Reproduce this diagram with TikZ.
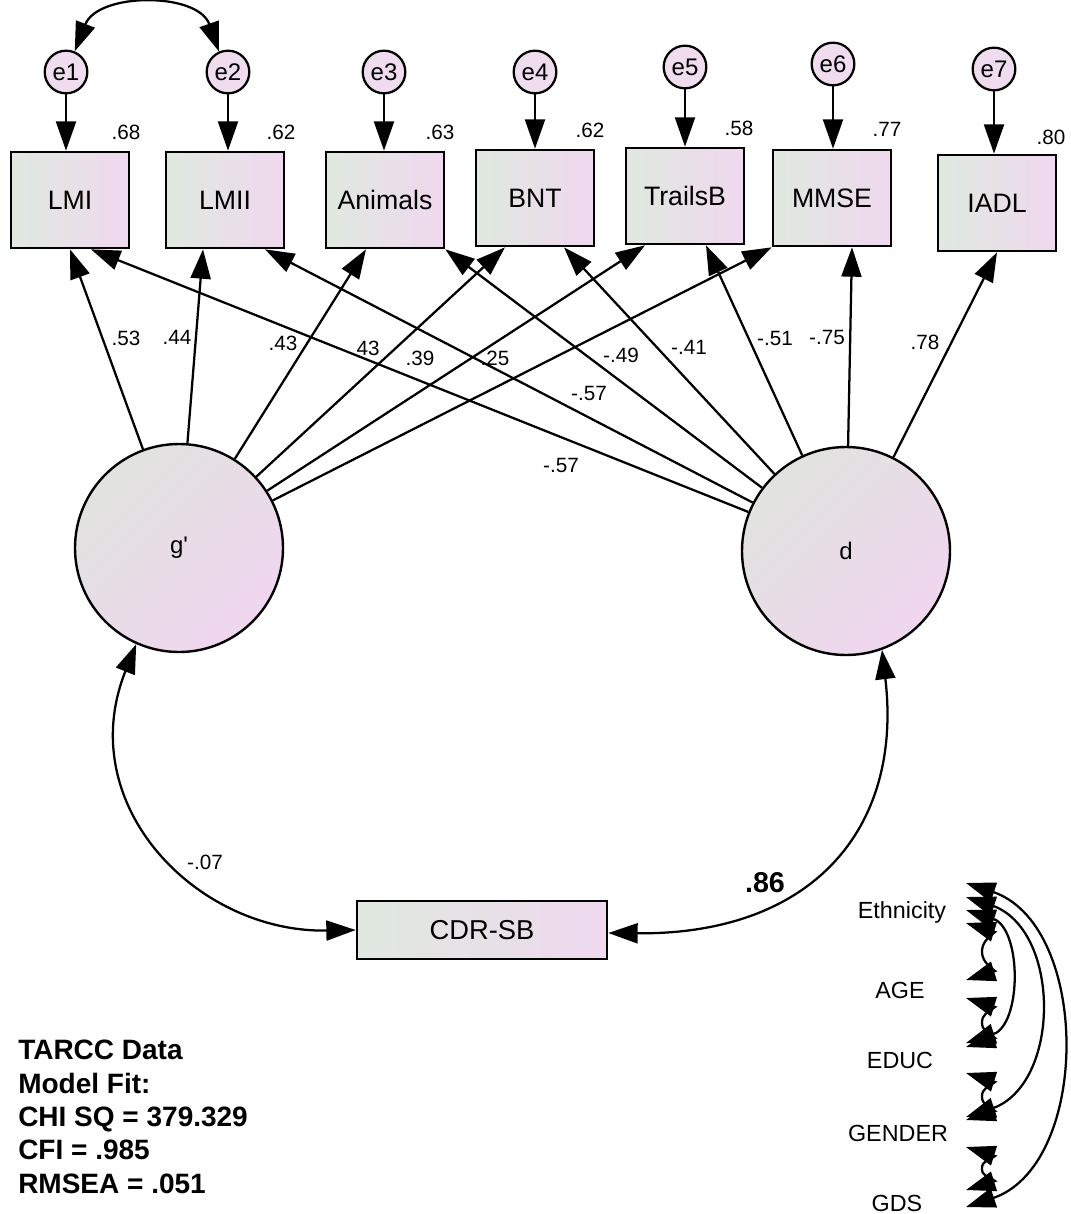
\documentclass[tikz,border=0pt]{standalone}
\usepackage{fontspec}
\setmainfont{Liberation Sans}
\usetikzlibrary{arrows.meta,calc}
\definecolor{boxL}{HTML}{DFE9DF}
\definecolor{boxR}{HTML}{F0D8EF}
\definecolor{eFill}{HTML}{EFDCEF}
\definecolor{latT}{HTML}{E1E3DF}
\definecolor{latB}{HTML}{F0D6EF}
\begin{document}
\begin{tikzpicture}[x=0.75pt,y=-0.75pt,
 >={Triangle[length=22pt,width=15pt]},
 obs/.style={draw=black,line width=2pt,rectangle,minimum width=88.5pt,minimum height=72pt,inner sep=0pt,left color=boxL,right color=boxR,font=\fontsize{20}{22}\selectfont},
 err/.style={draw=black,line width=1.7pt,circle,minimum size=32pt,inner sep=0pt,fill=eFill,font=\fontsize{18}{20}\selectfont},
 lat/.style={draw=black,line width=1.8pt,circle,minimum size=156pt,inner sep=0pt,top color=latT,bottom color=latB,shading angle=45,font=\fontsize{18}{20}\selectfont},
 val/.style={inner sep=0pt,font=\fontsize{15.5}{17}\selectfont},
 cov/.style={inner sep=0pt,font=\fontsize{17.5}{20}\selectfont},
 arr/.style={->,line width=1.7pt},
 biarr/.style={<->,line width=1.7pt}]
\useasboundingbox (0,0) rectangle (1071,1214);

% error terms
\node[err] (e1) at (66,72) {e1};
\node[err] (e2) at (228,72) {e2};
\node[err] (e3) at (384,72) {e3};
\node[err] (e4) at (535,72) {e4};
\node[err] (e5) at (685,67) {e5};
\node[err] (e6) at (833,64) {e6};
\node[err] (e7) at (994,69) {e7};

% observed
\node[obs] (LMI) at (70,200) {LMI};
\node[obs] (LMII) at (225,200) {LMII};
\node[obs] (Anim) at (385,200) {Animals};
\node[obs] (BNT) at (535,198) {BNT};
\node[obs] (Trails) at (685,196) {TrailsB};
\node[obs] (MMSE) at (832,198) {MMSE};
\node[obs] (IADL) at (997,203) {IADL};

% squared multiple correlations
\node[val] (r1) at (126,132) {.68};
\node[val] (r2) at (281,132) {.62};
\node[val] (r3) at (440,132) {.63};
\node[val] (r4) at (590,130) {.62};
\node[val] (r5) at (739,128) {.58};
\node[val] (r6) at (887,129) {.77};
\node[val] (r7) at (1051,137) {.80};

% error arrows
\foreach \e/\b in {e1/LMI,e2/LMII,e3/Anim,e4/BNT,e5/Trails,e6/MMSE,e7/IADL}
  \draw[arr] (\e) -- (\e |- \b.north);
\draw[biarr] (e1.67) .. controls (98,-8) and (198,-8) .. (e2.114);

% latent
\node[lat] (g) at (179,548) {g\textquotesingle};
\node[lat] (d) at (846,551) {d};

% loadings of g'
\draw[arr] (g) -- (LMI.south);
\draw[arr] (g) -- ($(LMII.south)+(-22,0)$);
\draw[arr] (g) -- ($(Anim.south)+(-19,0)$);
\draw[arr] (g) -- ($(BNT.south)+(-30,0)$);
\draw[arr] (g) -- ($(Trails.south)+(-40,0)$);
\draw[arr] (g) -- (MMSE.south west);
% loadings of d
\draw[arr] (d) -- ($(LMI.south)+(21,0)$);
\draw[arr] (d) -- ($(LMII.south)+(40,0)$);
\draw[arr] (d) -- (Anim.south east);
\draw[arr] (d) -- ($(BNT.south)+(29,0)$);
\draw[arr] (d) -- ($(Trails.south)+(21,0)$);
\draw[arr] (d) -- ($(MMSE.south)+(20,0)$);
\draw[arr] (d) -- (IADL.south);

% loading labels
\node[val] (l1) at (126,338) {.53};
\node[val] (l2) at (177,337) {.44};
\node[val] (l3) at (283,343) {.43};
\node[val] (l4) at (368,348) {43};
\node[val] (l5) at (420,358) {.39};
\node[val] (l6) at (495,358) {.25};
\node[val] (m1) at (621,355) {-.49};
\node[val] (m2) at (689,347) {-.41};
\node[val] (m3) at (589,393) {-.57};
\node[val] (m4) at (775,338) {-.51};
\node[val] (m5) at (827,337) {-.75};
\node[val] (m6) at (925,342) {.78};
\node[val] (m7) at (561,465) {-.57};

% CDR-SB
\node[obs,minimum width=187.5pt,minimum height=43.5pt,font=\fontsize{20.5}{22}\selectfont] (CDR) at (482,930) {CDR-SB};
\draw[biarr] (g.246) .. controls (72,805) and (197,933) .. (CDR.west);
\draw[biarr] (d.290) .. controls (903,829) and (812,935) .. ($(CDR.east)+(0,3)$);
\node[val] (c1) at (205,862) {-.07};
\node[inner sep=0pt,font=\bfseries\fontsize{21.5}{24}\selectfont] (c2) at (765,883) {.86};

% covariates
\node[cov] (eth) at (902,912) {Ethnicity};
\node[cov] (age) at (900,990) {AGE};
\node[cov] (educ) at (900,1060) {EDUC};
\node[cov] (gen) at (898,1133) {GENDER};
\node[cov] (gds) at (897,1203) {GDS};

\coordinate (ethA) at (966,883);
\coordinate (ethB) at (966,897);
\coordinate (ethC) at (966,910);
\coordinate (ethD) at (966,923);
\coordinate (ageA) at (966,980);
\coordinate (ageB) at (966,998);
\coordinate (educA) at (966,1043);
\coordinate (educB) at (966,1047);
\coordinate (educC) at (966,1073);
\coordinate (genA) at (966,1117);
\coordinate (genB) at (966,1120);
\coordinate (genC) at (966,1147);
\coordinate (gdsA) at (966,1190);
\coordinate (gdsB) at (966,1207);

% long covariances
\draw[biarr] (ethA) -- ++(30,10) .. controls (1090,930) and (1090,1160) .. ($(gdsB)+(30,-10)$) -- (gdsB);
\draw[biarr] (ethB) -- ++(30,10) .. controls (1060,935) and (1060,1079) .. ($(genA)+(30,-10)$) -- (genA);
\draw[biarr] (ethC) -- ++(30,10) .. controls (1021,935) and (1021,1018) .. ($(educA)+(30,-10)$) -- (educA);
% short covariances
\foreach \p/\q in {ethD/ageA,ageB/educB,educC/genB,genC/gdsA}{
  \draw[biarr] (\p) -- ++(29,9)
    .. controls +(-8,6) and ($($(\p)!0.5!(\q)$)+(16,-8)$) .. ($($(\p)!0.5!(\q)$)+(16,0)$)
    .. controls +(0,8) and ($(\q)+(21,-15)$) .. ($(\q)+(29,-9)$) -- (\q);
}

% fit text
\node[anchor=north west,align=left,inner sep=0pt,font=\bfseries\fontsize{21}{25}\selectfont] (fit) at (18,1040) {TARCC Data\\Model Fit:\\CHI SQ = 379.329\\CFI = .985\\RMSEA = .051};
\end{tikzpicture}
\end{document}
